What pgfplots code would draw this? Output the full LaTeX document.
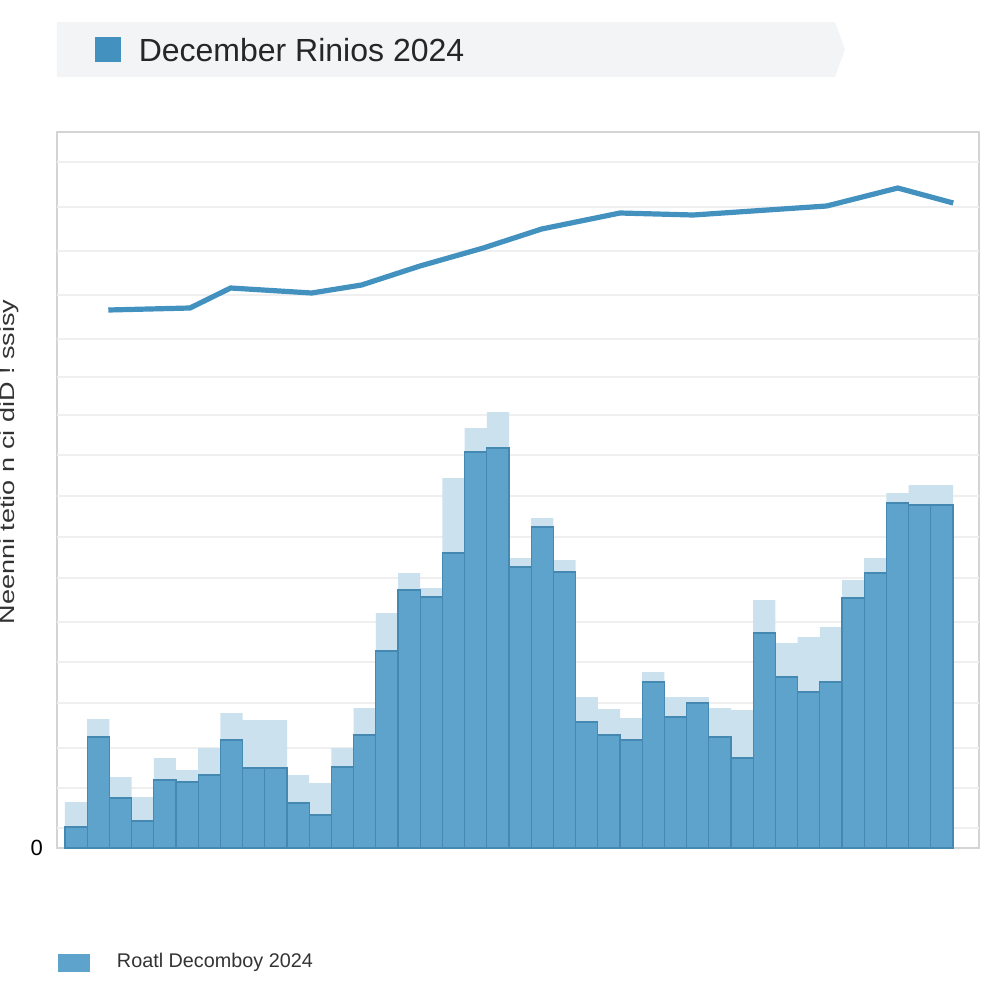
\documentclass[border=0pt]{standalone}
\usepackage{pgfplots}
\pgfplotsset{compat=1.18}
\usepackage{fontspec}
\setmainfont{Liberation Sans}
\definecolor{barmain}{HTML}{5EA3CB}
\definecolor{baredge}{HTML}{4588B1}
\definecolor{barlight}{HTML}{CBE1EE}
\definecolor{linec}{HTML}{4291BF}
\definecolor{gridc}{HTML}{EFEFEF}
\definecolor{titlebg}{HTML}{F3F4F5}
\begin{document}
\begin{tikzpicture}
\path[use as bounding box] (0,0) rectangle (250pt,250pt);
\fill[titlebg] (14.25pt,230.75pt) -- (208.75pt,230.75pt) -- (211.25pt,237.6pt) -- (208.75pt,244.5pt) -- (14.25pt,244.5pt) -- cycle;
\fill[linec] (23.75pt,234.5pt) rectangle (30.25pt,240.75pt);
\node[anchor=west, inner sep=0pt, font=\fontsize{8}{9.5}\selectfont, text=black!85] at (34.5pt,237.4pt) {December Rinios 2024};
\node[rotate=90, inner sep=0pt, font=\fontsize{5.2}{6}\selectfont, text=black!80] at (2.4pt,134.5pt) {\scalebox{1.3}[1]{Neenni tetio n ci diD ! ssisy}};
\begin{axis}[
  at={(14.25pt,38pt)}, anchor=south west,
  width=230.5pt, height=179pt, scale only axis,
  xmin=0.14, xmax=41.67, ymin=0, ymax=716,
  ybar=0pt, bar width=5.55pt,
  xtick=\empty,
  ytick={0}, yticklabels={0},
  extra y ticks={20,60,100,145,186,226,270,311,352,393,433,471,509,553,597,641,686},
  extra y tick labels={},
  extra y tick style={grid=major, major grid style={draw=gridc, line width=0.5pt}},
  major tick length=0pt,
  axis line style={draw=black!17, line width=0.5pt},
  yticklabel style={font=\fontsize{5.5}{6}\selectfont, text=black},
  /pgf/number format/assume math mode=true,
  legend style={at={(rel axis cs:0,-0.161)}, anchor=west, draw=none, fill=none,
    font=\fontsize{4.95}{5.8}\selectfont, inner sep=0pt, text=black!80},
  legend image code/.code={\fill[barmain] (0pt,-2.1pt) rectangle (7.75pt,2.1pt); \path (12.5pt,0pt);},
]
% lighter (upper) layer of each bar
\addplot[fill=barlight, draw=none, bar shift=0pt, forget plot] coordinates {
(1,46) (2,129) (3,71) (4,51) (5,90) (6,78) (7,100) (8,135) (9,128) (10,128)
(11,73) (12,65) (13,100) (14,140) (15,235) (16,275) (17,260) (18,370) (19,420) (20,436)
(21,290) (22,330) (23,288) (24,151) (25,139) (26,130) (27,176) (28,151) (29,151) (30,140)
(31,138) (32,248) (33,205) (34,211) (35,221) (36,268) (37,290) (38,355) (39,363) (40,363)};
% main bars
\addplot[fill=barmain, draw=baredge, line width=0.3pt, bar shift=0pt] coordinates {
(1,21) (2,111) (3,50) (4,27) (5,68) (6,66) (7,73) (8,108) (9,80) (10,80)
(11,45) (12,33) (13,81) (14,113) (15,197) (16,258) (17,251) (18,295) (19,396) (20,400)
(21,281) (22,321) (23,276) (24,126) (25,113) (26,108) (27,166) (28,131) (29,145) (30,111)
(31,90) (32,215) (33,171) (34,156) (35,166) (36,250) (37,275) (38,345) (39,343) (40,343)};
\addlegendentry{Roatl Decomboy 2024}
% line
\addplot[sharp plot, draw=linec, line width=1.3pt, mark=none, forget plot] coordinates {
(2.45,538) (6.13,540) (7.96,560) (11.61,555) (13.86,563) (16.49,582) (19.34,600)
(21.97,619) (25.5,635) (28.8,633) (34.81,642) (38.01,660) (40.51,645)};
\end{axis}
\end{tikzpicture}
\end{document}
